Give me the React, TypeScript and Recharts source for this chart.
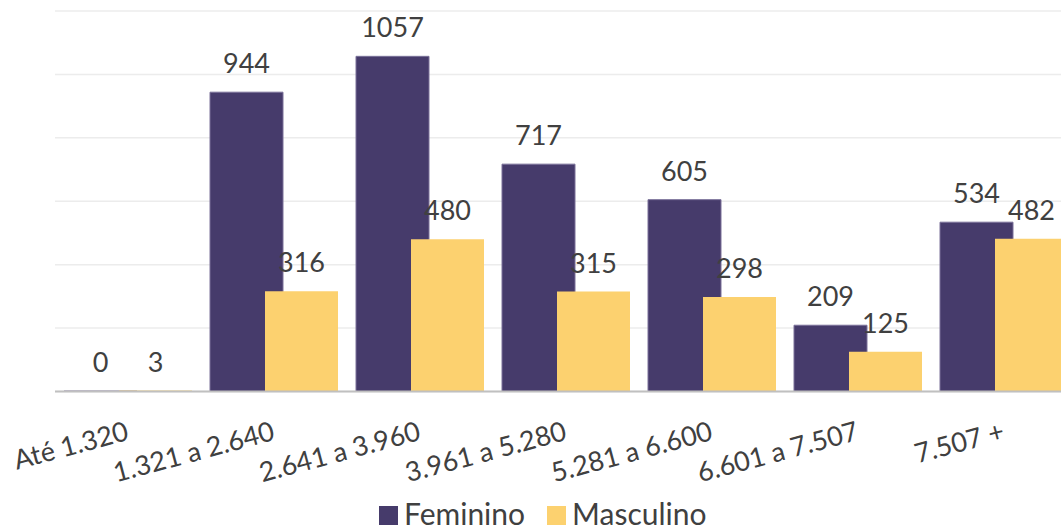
import React from 'react';
import { BarChart, Bar, XAxis, YAxis, CartesianGrid, LabelList, Legend } from 'recharts';

const CATEGORIES = ['Até 1.320', '1.321 a 2.640', '2.641 a 3.960', '3.961 a 5.280', '5.281 a 6.600', '6.601 a 7.507', '7.507 +'];
const FEMININO = [0, 944, 1057, 717, 605, 209, 534];
const MASCULINO = [3, 316, 480, 315, 298, 125, 482];
const Y_TICKS = [0, 200, 400, 600, 800, 1000, 1200];

const SERIES = [
  { key: 'feminino', name: 'Feminino', color: '#463b6b' },
  { key: 'masculino', name: 'Masculino', color: '#fcd16f' },
];

const data = CATEGORIES.map((cat, i) => ({
  cat,
  feminino: FEMININO[i],
  masculino: MASCULINO[i],
}));

const FONT = 'Lato, "Open Sans", sans-serif';
const TEXT = '#404040';

// rotated category labels, right end sits at the category centre
const AngleTick = (props: any) => {
  const { x, y, payload } = props;
  const tx = x + 2;
  const ty = y + 48;
  return (
    <text
      x={tx}
      y={ty}
      textAnchor="end"
      transform={`rotate(-15, ${tx}, ${ty})`}
      fontFamily={FONT}
      fontSize={27}
      fill={TEXT}
    >
      {payload.value}
    </text>
  );
};

const LegendContent = () => (
  <div style={{ display: 'flex', height: 30, paddingLeft: 379, paddingTop: 3, boxSizing: 'border-box', fontFamily: FONT }}>
    {SERIES.map((s) => (
      <div key={s.key} style={{ display: 'flex', alignItems: 'center', marginRight: 22 }}>
        <span style={{ width: 19, height: 19, background: s.color, display: 'inline-block', marginRight: 6, marginTop: 6 }} />
        <span style={{ fontSize: 30, color: TEXT, lineHeight: '30px' }}>{s.name}</span>
      </div>
    ))}
  </div>
);

const App: React.FC = () => {
  return (
    <div style={{ position: 'fixed', left: 0, top: 0, width: 1061, height: 526, overflow: 'hidden', background: '#fff' }}>
      <BarChart
        width={1100}
        height={526}
        data={data}
        margin={{ top: 11, right: 23, left: 55, bottom: 0 }}
        barSize={73}
        barGap={-18}
      >
        <CartesianGrid vertical={false} stroke="#ececec" strokeWidth={1.5} />
        <YAxis hide domain={[0, 1200]} ticks={Y_TICKS} />
        <Legend
          verticalAlign="bottom"
          align="left"
          height={30}
          wrapperStyle={{ left: 0, width: 1100 }}
          content={() => <LegendContent />}
        />
        <Bar dataKey="feminino" name="Feminino" fill={SERIES[0].color} stroke="#7a7199" strokeWidth={1} minPointSize={0.5} isAnimationActive={false}>
          <LabelList dataKey="feminino" position="top" offset={19} fill={TEXT} fontSize={27} fontFamily={FONT} />
        </Bar>
        <Bar dataKey="masculino" name="Masculino" fill={SERIES[1].color} minPointSize={0.5} isAnimationActive={false}>
          <LabelList dataKey="masculino" position="top" offset={19} fill={TEXT} fontSize={27} fontFamily={FONT} />
        </Bar>
        <XAxis
          dataKey="cat"
          height={104.5}
          axisLine={{ stroke: '#c0c0c0', strokeWidth: 2 }}
          tickLine={false}
          tickSize={0}
          tickMargin={0}
          interval={0}
          tick={<AngleTick />}
        />
      </BarChart>
    </div>
  );
};

export default App;
